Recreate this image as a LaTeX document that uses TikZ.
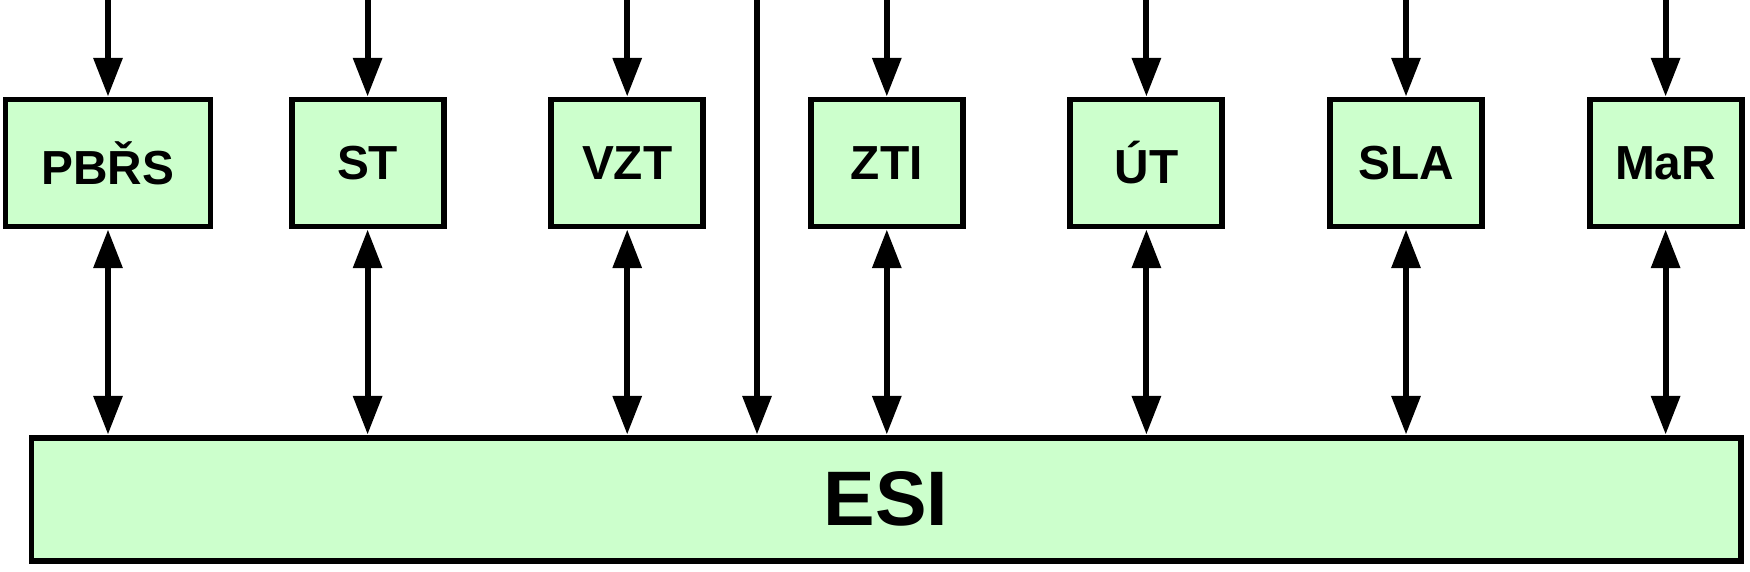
\documentclass[tikz,border=0pt]{standalone}
\usepackage{fontspec}
\setmainfont{Liberation Sans}
\definecolor{boxgreen}{RGB}{204, 255, 204}
\usetikzlibrary{arrows.meta, positioning, calc}

\begin{document}
\begin{tikzpicture}[
  sbox/.style={draw, fill=boxgreen, line width=1.7pt, minimum width=1.52cm, minimum height=1.27cm, inner sep=0pt, font=\fontsize{13.6}{15}\selectfont\bfseries},
  link/.style={line width=1.7pt, -{Triangle[length=11pt, width=8pt]}},
  dlink/.style={line width=1.7pt, {Triangle[length=11pt, width=8pt]}-{Triangle[length=11pt, width=8pt]}}
]
  \useasboundingbox (0, 0) rectangle (17.5, -5.71);
  % subsystems
  \node[sbox, minimum width=2.05cm] (pbrs) at (1.08, -1.63) {PBŘS};
  \node[sbox] (st)  at (3.676, -1.63) {ST};
  \node[sbox] (vzt) at (6.272, -1.63) {VZT};
  \node[sbox] (zti) at (8.868, -1.63) {ZTI};
  \node[sbox] (ut)  at (11.464, -1.63) {ÚT};
  \node[sbox] (sla) at (14.06, -1.63) {SLA};
  \node[sbox] (mar) at (16.656, -1.63) {MaR};
  \node[sbox, minimum width=17.09cm, minimum height=1.23cm, font=\fontsize{22}{24}\selectfont\bfseries] (esi) at (8.86, -4.99) {ESI};
  % inputs from above
  \coordinate (inpbrs) at (pbrs |- 0, 0);
  \coordinate (inst)   at (st |- 0, 0);
  \coordinate (invzt)  at (vzt |- 0, 0);
  \coordinate (inesi)  at (7.57, 0);
  \coordinate (inzti)  at (zti |- 0, 0);
  \coordinate (inut)   at (ut |- 0, 0);
  \coordinate (insla)  at (sla |- 0, 0);
  \coordinate (inmar)  at (mar |- 0, 0);
  \draw[link] (inpbrs) -- (pbrs);
  \draw[link] (inst) -- (st);
  \draw[link] (invzt) -- (vzt);
  \draw[link] (inesi) -- (inesi |- esi.north);
  \draw[link] (inzti) -- (zti);
  \draw[link] (inut) -- (ut);
  \draw[link] (insla) -- (sla);
  \draw[link] (inmar) -- (mar);
  % links to ESI
  \draw[dlink] (pbrs) -- (pbrs |- esi.north);
  \draw[dlink] (st) -- (st |- esi.north);
  \draw[dlink] (vzt) -- (vzt |- esi.north);
  \draw[dlink] (zti) -- (zti |- esi.north);
  \draw[dlink] (ut) -- (ut |- esi.north);
  \draw[dlink] (sla) -- (sla |- esi.north);
  \draw[dlink] (mar) -- (mar |- esi.north);
\end{tikzpicture}
\end{document}
